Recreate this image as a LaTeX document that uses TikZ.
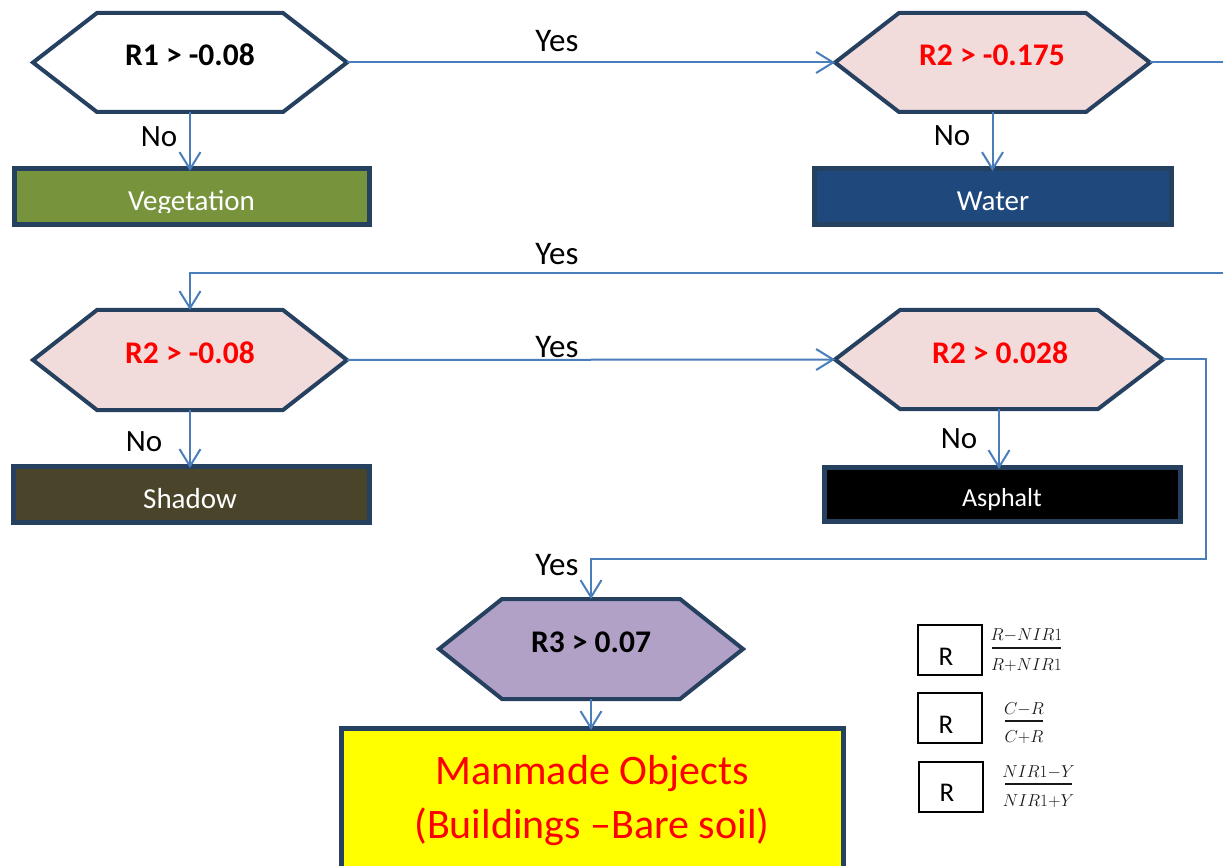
\documentclass[tikz,border=0pt]{standalone}
\usepackage{fontspec}
\setmainfont{Carlito}
\usetikzlibrary{arrows.meta}
\definecolor{navy}{RGB}{38,64,96}
\definecolor{conncol}{RGB}{74,126,187}
\definecolor{pinkfill}{RGB}{242,220,219}
\definecolor{vegfill}{RGB}{119,147,60}
\definecolor{waterfill}{RGB}{31,73,125}
\definecolor{shadowfill}{RGB}{74,69,42}
\definecolor{purplefill}{RGB}{178,161,199}
\definecolor{yellowfill}{RGB}{255,255,0}
\definecolor{redtext}{RGB}{255,0,0}
\tikzset{
  hexgeom/.style={shape=rectangle, inner sep=0pt, outer sep=0pt},
  hexline/.style={draw=navy, line width=4pt, line join=miter},
  hextext/.style={font=\fontsize{31.5}{36}\selectfont\bfseries, anchor=base, inner sep=0pt},
  classbox/.style={shape=rectangle, draw=navy, line width=5pt, inner sep=0pt, outer sep=0pt},
  boxtext/.style={font=\fontsize{29}{34}\selectfont, text=white, anchor=base, inner sep=0pt},
  lbl/.style={font=\fontsize{31}{36}\selectfont, anchor=base, inner sep=0pt},
  yeslbl/.style={font=\fontsize{33}{38}\selectfont, anchor=base, inner sep=0pt},
  conn/.style={draw=conncol, line width=2pt, -{Straight Barb[length=17pt,width=21pt]}},
  legbox/.style={shape=rectangle, draw=black, line width=2pt, minimum width=64pt, minimum height=50pt, inner sep=0pt},
  legR/.style={font=\fontsize{27}{31}\selectfont, anchor=base, inner sep=0pt},
  mathtxt/.style={font=\fontsize{16.5}{20}\selectfont, anchor=base, inner sep=0pt, text=black!90}
}
% hexagon: name, cx, cy, half width, slant, half height, fill
\newcommand\hexshape[7]{%
  \node[hexgeom, minimum width=2*#4pt, minimum height=2*#6pt] (#1) at (#2,#3) {};
  \path[hexline, fill=#7] (#1.west) -- ([xshift=#5pt]#1.north west) -- ([xshift=-#5pt]#1.north east)
     -- (#1.east) -- ([xshift=-#5pt]#1.south east) -- ([xshift=#5pt]#1.south west) -- cycle;
}
\begin{document}
\begin{tikzpicture}[x=1pt,y=-1pt]
\useasboundingbox (0,0) rectangle (1223,866);
\clip (0,0) rectangle (1223,866);

% hexagons
\hexshape{h1}{190}{62.5}{157}{64}{49.5}{white}
\hexshape{h2}{992.5}{62.5}{157.5}{64}{49.5}{pinkfill}
\hexshape{h3}{190}{360}{157}{64}{50}{pinkfill}
\hexshape{h4}{999}{359.5}{164}{65}{49.5}{pinkfill}
\hexshape{h5}{591}{649}{152}{63}{50}{purplefill}

\node[hextext] (h1t) at (190,66) {R1 > -0.08};
\node[hextext, text=redtext] (h2t) at (992,66) {R2 > -0.175};
\node[hextext, text=redtext] (h3t) at (190,363) {R2 > -0.08};
\node[hextext, text=redtext] (h4t) at (1000,363) {R2 > 0.028};
\node[hextext] (h5t) at (591,652) {R3 > 0.07};

% class boxes
\node[classbox, fill=vegfill, minimum width=355pt, minimum height=56pt] (veg) at (191.5,197) {};
\node[classbox, fill=waterfill, minimum width=357pt, minimum height=56pt] (water) at (992.5,197) {};
\node[classbox, fill=shadowfill, minimum width=356pt, minimum height=56pt] (shadow) at (191,494) {};
\node[classbox, fill=black, minimum width=356pt, minimum height=54pt] (asph) at (1002,494) {};
\node[classbox, fill=yellowfill, minimum width=502pt, minimum height=180pt, anchor=north] (mm) at (592,728) {};

\begin{scope}
  \clip (14,169) rectangle (369,212.5);
  \node[boxtext] (vegt) at (191.5,211) {Vegetation};
\end{scope}
\node[boxtext] (watert) at (993,211) {Water};
\node[boxtext] (shadowt) at (190,508) {Shadow};
\node[boxtext, font=\fontsize{26}{31}\selectfont] (asph-t) at (1002,506) {Asphalt};
\node[lbl, font=\fontsize{42}{50}\selectfont, text=redtext] (mmt1) at (592,784) {Manmade Objects};
\node[lbl, font=\fontsize{42}{50}\selectfont, text=redtext] (mmt2) at (592,838) {(Buildings –Bare soil)};

% connectors
\coordinate (offA) at (1240,62.5);
\coordinate (offB) at (1240,273);
\coordinate (bendR) at (1206,559);

\draw[conn] (h1.east) -- (h2.west);
\draw[conn] (h1.south) -- ([yshift=-2pt]h1.south |- veg.north);
\draw[conn] (h2.south) -- ([yshift=-2pt]h2.south |- water.north);
\draw[conn] (h2.east) -- (offA) -- (offB) -| (h3.north);
\draw[conn] (h3.east) -- (h4.west);
\draw[conn] (h3.south) -- ([yshift=-2pt]h3.south |- shadow.north);
\draw[conn] (h4.south) -- ([yshift=-2pt]h4.south |- asph.north);
\draw[conn] (h4.east) -| (bendR) -| (h5.north);
\draw[conn] (h5.south) -- ([yshift=-2pt]h5.south |- mm.north);

% labels
\node[yeslbl] (yes1) at (557,52) {Yes};
\node[yeslbl] (yes2) at (557,265) {Yes};
\node[yeslbl] (yes3) at (557,357) {Yes};
\node[yeslbl] (yes4) at (557,575) {Yes};
\node[lbl] (no1) at (159,147) {No};
\node[lbl] (no2) at (952,146) {No};
\node[lbl] (no3) at (144,451) {No};
\node[lbl] (no4) at (959,448) {No};

% legend
\node[legbox] (lb1) at (950,650) {};
\node[legbox] (lb2) at (950,718) {};
\node[legbox] (lb3) at (951,787) {};
\node[legR] (lr1) at (946,665) {R};
\node[legR] (lr2) at (946,733) {R};
\node[legR] (lr3) at (947,801) {R};

\node[mathtxt] (f1n) at (1026.5,640) {$R{-}NIR1$};
\node[mathtxt] (f1d) at (1026.5,670) {$R{+}NIR1$};
\draw[line width=1.3pt, black!90] (992,648) -- (1061,648);
\node[mathtxt] (f2n) at (1024,714) {$C{-}R$};
\node[mathtxt] (f2d) at (1024,742) {$C{+}R$};
\draw[line width=1.3pt, black!90] (1005,721) -- (1043,721);
\node[mathtxt] (f3n) at (1038.5,777) {$NIR1{-}Y$};
\node[mathtxt] (f3d) at (1038.5,806) {$NIR1{+}Y$};
\draw[line width=1.3pt, black!90] (1005,784) -- (1072,784);
\end{tikzpicture}
\end{document}
